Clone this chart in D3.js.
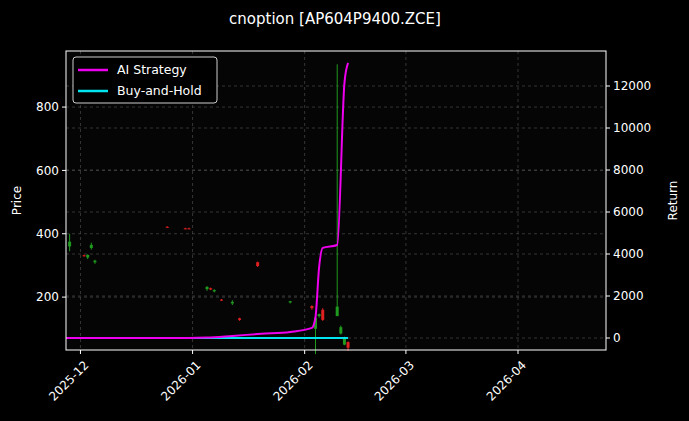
<!DOCTYPE html>
<html><head><meta charset="utf-8">
<script src="https://cdn.jsdelivr.net/npm/d3@7.9.0/dist/d3.min.js"></script>
<style>body{margin:0;background:#000}text{font-family:"DejaVu Sans",sans-serif}</style>
</head><body><svg width="689" height="421"></svg>
<script>
// candles: date, open, high, low, close
const candleDates = ['2025-11-28','2025-12-02','2025-12-03','2025-12-04','2025-12-05','2025-12-25','2025-12-30','2025-12-31',
  '2026-01-05','2026-01-06','2026-01-07','2026-01-09','2026-01-12','2026-01-14','2026-01-19','2026-01-28',
  '2026-02-03','2026-02-04','2026-02-05','2026-02-06','2026-02-10','2026-02-11','2026-02-12','2026-02-13'];
const opens  = [360,332,325,355,310,422,417,417,225,228,218,192,180,133,310,183,172,100,140,160,140,85,50,58];
const highs  = [400,334,335,372,318,424,419,419,235,230,225,194,190,135,312,188,174,140,148,165,935,110,75,60];
const lows   = [345,328,320,350,305,420,415,415,220,222,215,188,175,125,295,180,160,20,135,125,140,82,48,30];
const closes = [375,330,333,365,315,420,415,415,232,224,222,190,185,128,298,187,165,135,146,128,170,105,70,40];
const lineDates = ['2025-11-27','2025-12-05','2025-12-31','2026-01-05','2026-01-12','2026-01-20','2026-01-28','2026-02-03','2026-02-04',
  '2026-02-05','2026-02-06','2026-02-10','2026-02-12','2026-02-13'];
const strategy = [0,0,0,20,100,200,290,480,1000,3380,4290,4430,12140,13100];
const buyHold  = [0,0,0,0,0,0,0,0,0,0,0,0,0,0];
const priceTicks = [200,400,600,800];
const returnTicks = [0,2000,4000,6000,8000,10000,12000];
const monthTicks = ['2025-12-01','2026-01-01','2026-02-01','2026-03-01','2026-04-01'];

const P = d3.timeParse('%Y-%m-%d');
const svg = d3.select('svg');
const L = 66, R = 606, T = 51, B = 350;
svg.append('rect').attr('width',689).attr('height',421).attr('fill','#000');
svg.append('rect').attr('x',L).attr('y',T).attr('width',R-L).attr('height',B-T).attr('fill','#050505');

const x = d3.scaleTime().domain([P('2025-11-27'), new Date(2026,3,25,8)]).range([L,R]);
const y = d3.scaleLinear().domain([33,977]).range([B,T]);
const y2 = d3.scaleLinear().domain([-571,13667]).range([B,T]);

// grid
const g = svg.append('g').attr('stroke','#555').attr('stroke-dasharray','3,3').attr('stroke-width',0.6);
monthTicks.forEach(d => g.append('line').attr('x1',x(P(d))).attr('x2',x(P(d))).attr('y1',T).attr('y2',B));
priceTicks.forEach(v => g.append('line').attr('x1',L).attr('x2',R).attr('y1',y(v)).attr('y2',y(v)));
returnTicks.forEach(v => g.append('line').attr('x1',L).attr('x2',R).attr('y1',y2(v)).attr('y2',y2(v)));

// candles
candleDates.forEach((d,i) => {
  const up = closes[i] >= opens[i];
  const c = up ? '#1f9a1f' : '#e02020';
  const cx = x(P(d));
  svg.append('line').attr('x1',cx).attr('x2',cx).attr('y1',y(highs[i])).attr('y2',y(lows[i])).attr('stroke',c).attr('stroke-width',1);
  const top = y(Math.max(opens[i],closes[i])), bot = y(Math.min(opens[i],closes[i]));
  svg.append('rect').attr('x',cx-1.5).attr('width',3).attr('y',top).attr('height',Math.max(1,bot-top)).attr('fill',c);
});

const line = vals => d3.line().x((d,i) => x(P(lineDates[i]))).y(d => y2(d)).curve(d3.curveMonotoneX)(vals);
svg.append('path').attr('d',line(buyHold)).attr('fill','none').attr('stroke','#00e5ee').attr('stroke-width',2);
svg.append('path').attr('d',line(strategy)).attr('fill','none').attr('stroke','#ee00ee').attr('stroke-width',2);

svg.append('rect').attr('x',L).attr('y',T).attr('width',R-L).attr('height',B-T).attr('fill','none').attr('stroke','#fff').attr('stroke-width',1);

// axes
const fmt = d3.timeFormat('%Y-%m');
monthTicks.forEach(d => {
  const px = x(P(d));
  svg.append('line').attr('x1',px).attr('x2',px).attr('y1',B).attr('y2',B+4).attr('stroke','#fff');
  svg.append('text').attr('transform',`translate(${px+3},${B+10}) rotate(-45)`).attr('text-anchor','end')
    .attr('fill','#fff').attr('font-size',12).attr('dy','0.7em').text(fmt(P(d)));
});
priceTicks.forEach(v => {
  svg.append('line').attr('x1',L-4).attr('x2',L).attr('y1',y(v)).attr('y2',y(v)).attr('stroke','#fff');
  svg.append('text').attr('x',L-7).attr('y',y(v)).attr('dy','0.35em').attr('text-anchor','end').attr('fill','#fff').attr('font-size',12).text(v);
});
returnTicks.forEach(v => {
  svg.append('line').attr('x1',R).attr('x2',R+4).attr('y1',y2(v)).attr('y2',y2(v)).attr('stroke','#fff');
  svg.append('text').attr('x',R+7).attr('y',y2(v)).attr('dy','0.35em').attr('fill','#fff').attr('font-size',12).text(v);
});
svg.append('text').attr('transform',`translate(21,${(T+B)/2}) rotate(-90)`).attr('text-anchor','middle').attr('fill','#fff').attr('font-size',12).text('Price');
svg.append('text').attr('transform',`translate(677,${(T+B)/2}) rotate(-90)`).attr('text-anchor','middle').attr('fill','#fff').attr('font-size',12).text('Return');
svg.append('text').attr('x',335).attr('y',24).attr('text-anchor','middle').attr('fill','#fff').attr('font-size',15).text('cnoption [AP604P9400.ZCE]');

// legend
const lg = svg.append('g');
lg.append('rect').attr('x',73).attr('y',57).attr('width',144).attr('height',46).attr('rx',3).attr('fill','#000').attr('stroke','#ccc');
[['AI Strategy','#ee00ee'],['Buy-and-Hold','#00e5ee']].forEach(([t,c],i) => {
  const yy = 70 + i*21;
  lg.append('line').attr('x1',78).attr('x2',108).attr('y1',yy).attr('y2',yy).attr('stroke',c).attr('stroke-width',2.5);
  lg.append('text').attr('x',117).attr('y',yy).attr('dy','0.35em').attr('fill','#fff').attr('font-size',12.5).text(t);
});
</script></body></html>
